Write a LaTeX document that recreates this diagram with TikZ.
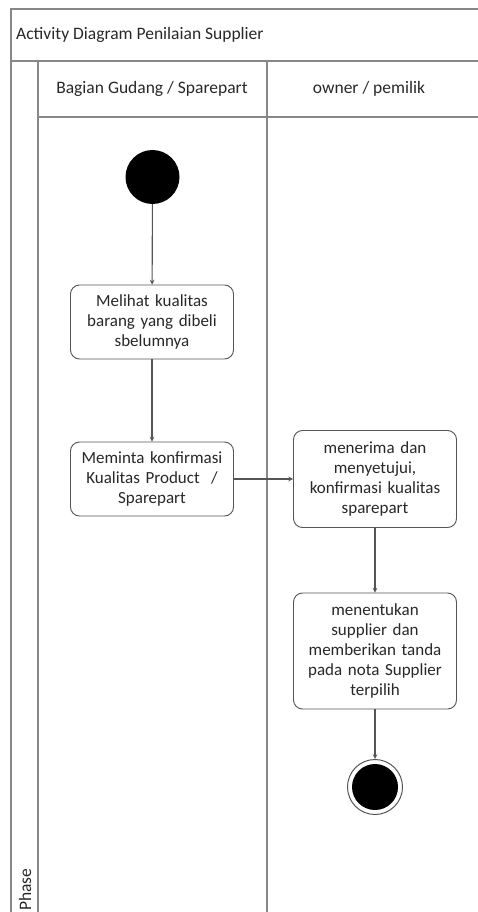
\documentclass[tikz,border=0pt]{standalone}
\usepackage{fontspec}
\setmainfont{Carlito}
\usetikzlibrary{arrows}
\definecolor{frameGray}{RGB}{135,135,135}
\definecolor{lineGray}{RGB}{85,85,85}
\definecolor{textGray}{RGB}{40,40,40}

\begin{document}
\begin{tikzpicture}[x=1pt, y=-1pt]
    % Styles
    \tikzstyle{frame} = [draw=frameGray, line width=1.5pt]
    \tikzstyle{label} = [text=textGray, font=\fontsize{17.5}{20}\selectfont, inner sep=0pt]
    \tikzstyle{activity} = [rectangle, draw=lineGray, line width=0.9pt, fill=white, text=textGray, rounded corners=9pt, minimum width=163pt, text width=156pt, align=center, font=\fontsize{17}{20}\selectfont, inner sep=2pt]
    \tikzstyle{arrow} = [->, >=stealth, lineGray, line width=1.1pt]

    \useasboundingbox (0,0) rectangle (478,912);

    % Swimlane frame
    \draw[frame] (11,912) -- (11,9) -- (478,9);
    \draw[frame] (11,61) -- (478,61);
    \draw[frame] (38,61) -- (38,912);
    \draw[frame] (38,117) -- (478,117);
    \draw[frame] (267,61) -- (267,912);

    % Titles
    \node[label, anchor=west] (title) at (16,35) {Activity Diagram Penilaian Supplier};
    \node[label] (laneGudang) at (152,89) {Bagian Gudang / Sparepart};
    \node[label] (laneOwner) at (369,89) {owner / pemilik};
    \node[label, rotate=90, anchor=west] (phase) at (25,911) {Phase};

    % Start and end
    \node[circle, fill=black, minimum size=54pt, inner sep=0pt] (start) at (152.5,177) {};
    \node[circle, draw=lineGray, line width=1pt, minimum size=55pt, inner sep=0pt] (end) at (375,787) {};
    \fill[black] (end) circle (23);

    % Activities
    \node[activity, minimum height=74pt] (lihat) at (152,322) {Melihat kualitas\\ barang yang dibeli\\ sbelumnya};
    \node[activity, minimum height=74pt] (minta) at (152,479) {Meminta konfirmasi\\ Kualitas Product~~/\\ Sparepart};
    \node[activity, minimum height=97pt] (terima) at (375,479) {menerima dan\\ menyetujui,\\ konfirmasi kualitas\\ sparepart};
    \node[activity, minimum height=116pt] (tentukan) at (375,651) {menentukan\\ supplier dan\\ memberikan tanda\\ pada nota Supplier\\ terpilih};

    % Arrows
    \draw[arrow] (start) -- (lihat);
    \draw[arrow] (lihat) -- (minta);
    \draw[arrow] (minta) -- (terima);
    \draw[arrow] (terima) -- (tentukan);
    \draw[arrow] (tentukan) -- (end);
\end{tikzpicture}
\end{document}
